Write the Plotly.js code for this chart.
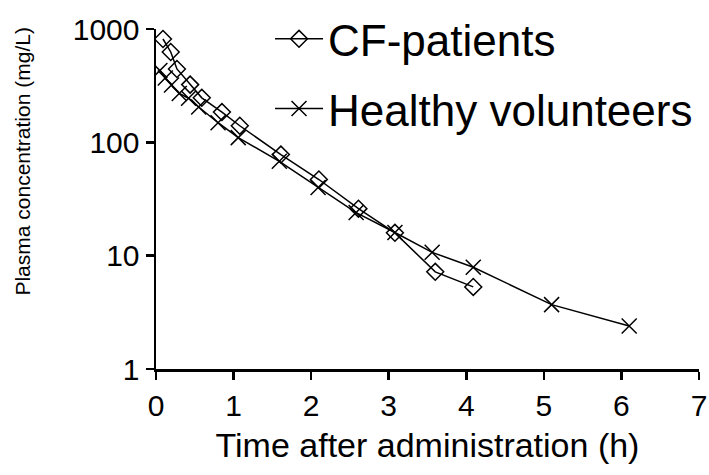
<!DOCTYPE html>
<html>
<head>
<meta charset="utf-8">
<script src="https://cdn.plot.ly/plotly-3.0.1.min.js"></script>
<style>html,body{margin:0;padding:0;background:#fff;}#chart{width:709px;height:475px;}</style>
</head>
<body>
<div id="chart"></div>
<script>
// CF-patients
const cfTime = [0.09, 0.19, 0.27, 0.44, 0.59, 0.85, 1.08, 1.61, 2.10, 2.61, 3.08, 3.60, 4.09];
const cfConc = [816, 627, 444, 323, 247, 185, 140, 78, 47, 26, 15.9, 7.2, 5.3];
// Healthy volunteers
const hvTime = [0.05, 0.12, 0.2, 0.3, 0.42, 0.55, 0.8, 1.06, 1.59, 2.09, 2.58, 3.08, 3.56, 4.09, 5.1, 6.1];
const hvConc = [430, 370, 320, 270, 245, 205, 149, 110, 68, 40, 24, 16, 10.7, 7.9, 3.7, 2.4];
const names = ["CF-patients", "Healthy volunteers"];
const xTicks = [0, 1, 2, 3, 4, 5, 6, 7];
const yTicks = [1, 10, 100, 1000];
const xTitle = "Time after administration (h)";
const yTitle = "Plasma concentration (mg/L)";

const font = "Liberation Sans, Arial, sans-serif";
const narrow = "Liberation Sans Narrow, Arial Narrow, Liberation Sans, Arial, sans-serif";
const traces = [
  {x: cfTime, y: cfConc, name: names[0], mode: "lines+markers", legend: "legend",
   line: {color: "#000", width: 1.5},
   marker: {symbol: "diamond-open", size: 13, color: "#000", line: {width: 1.5, color: "#000"}}},
  {x: hvTime, y: hvConc, name: names[1], mode: "lines+markers", legend: "legend2",
   line: {color: "#000", width: 1.5},
   marker: {symbol: "x-thin-open", size: 15, color: "#000", line: {width: 1.5, color: "#000"}}}
];
const layout = {
  width: 709, height: 475,
  margin: {l: 156, r: 10, t: 29, b: 106, autoexpand: false},
  paper_bgcolor: "#fff", plot_bgcolor: "#fff",
  font: {family: font, color: "#000"},
  showlegend: true,
  legend: {x: 0.21, y: 0.97, xanchor: "left", yanchor: "middle", bgcolor: "rgba(0,0,0,0)",
           font: {size: 44, family: font}, itemwidth: 48},
  legend2: {x: 0.21, y: 0.765, xanchor: "left", yanchor: "middle", bgcolor: "rgba(0,0,0,0)",
            font: {size: 44, family: font}, itemwidth: 48},
  xaxis: {range: [0, 7], tickvals: xTicks, ticktext: xTicks.map(String),
          showgrid: false, zeroline: false, showline: true, linewidth: 2.5, linecolor: "#000",
          ticks: "outside", ticklen: 8, tickwidth: 2.5, tickcolor: "#000",
          tickfont: {size: 30, family: narrow},
          title: {text: xTitle, font: {size: 34, family: font}, standoff: 13}},
  yaxis: {type: "log", range: [0, 3], tickvals: yTicks, ticktext: yTicks.map(String),
          showgrid: false, zeroline: false, showline: true, linewidth: 2.5, linecolor: "#000",
          ticks: "outside", ticklen: 8, tickwidth: 2.5, tickcolor: "#000",
          tickfont: {size: 30, family: narrow}},
  annotations: [{text: yTitle, textangle: -90, xref: "paper", yref: "paper",
                 x: -0.245, y: 0.61, xanchor: "center", yanchor: "middle", showarrow: false,
                 font: {size: 21, family: font}}]
};
Plotly.newPlot("chart", traces, layout, {displayModeBar: false, staticPlot: true});
</script>
</body>
</html>
